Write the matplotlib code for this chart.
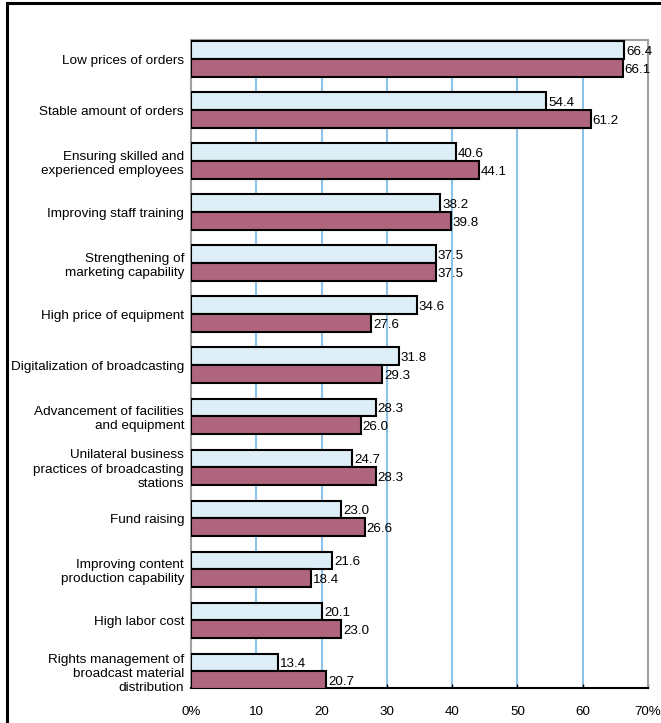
import numpy as np
import matplotlib
matplotlib.use("Agg")
from matplotlib import pyplot as plt
from matplotlib.patches import Rectangle

plt.rcParams["font.family"] = ["Liberation Sans", "DejaVu Sans"]

# issues, top to bottom
issues = [
    "Low prices of orders",
    "Stable amount of orders",
    "Ensuring skilled and\nexperienced employees",
    "Improving staff training",
    "Strengthening of\nmarketing capability",
    "High price of equipment",
    "Digitalization of broadcasting",
    "Advancement of facilities\nand equipment",
    "Unilateral business\npractices of broadcasting\nstations",
    "Fund raising",
    "Improving content\nproduction capability",
    "High labor cost",
    "Rights management of\nbroadcast material\ndistribution",
]
upper_vals = [66.4, 54.4, 40.6, 38.2, 37.5, 34.6, 31.8, 28.3, 24.7, 23.0, 21.6, 20.1, 13.4]
lower_vals = [66.1, 61.2, 44.1, 39.8, 37.5, 27.6, 29.3, 26.0, 28.3, 26.6, 18.4, 23.0, 20.7]
xticks = [0, 10, 20, 30, 40, 50, 60, 70]
xticklabels = ["0%", "10", "20", "30", "40", "50", "60", "70%"]

fig = plt.figure(figsize=(6.61, 7.23), dpi=100)
ax = fig.add_axes([191 / 661, 1 - 688 / 723, 457 / 661, 648 / 723])

# outer frame
fig.patches.append(Rectangle((7 / 661, -0.05), 1.0, 1 - 3 / 723 + 0.05,
                             transform=fig.transFigure, fill=False,
                             edgecolor="black", linewidth=2.2, zorder=0))

y = np.arange(len(issues))
h = 0.345
ax.barh(y - h / 2, upper_vals, height=h, color="#ddeef6", edgecolor="black",
        linewidth=1.5, zorder=3)
ax.barh(y + h / 2, lower_vals, height=h, color="#b0657f", edgecolor="black",
        linewidth=1.5, zorder=3)

for i in range(len(issues)):
    ax.text(upper_vals[i] + 0.3, y[i] - h / 2 + 0.04, f"{upper_vals[i]:.1f}",
            ha="left", va="center", fontsize=9.6, zorder=4, clip_on=False)
    ax.text(lower_vals[i] + 0.3, y[i] + h / 2 + 0.04, f"{lower_vals[i]:.1f}",
            ha="left", va="center", fontsize=9.6, zorder=4, clip_on=False)

ax.set_xlim(0, 70)
ax.set_ylim(12.33, -0.373)
ax.set_xticks(xticks)
ax.set_xticklabels(xticklabels, fontsize=9.6)
ax.set_yticks(y)
ax.set_yticklabels(issues, fontsize=9.7, linespacing=1.25)
ax.tick_params(axis="x", direction="in", length=3, width=1, pad=13)
ax.tick_params(axis="y", length=0, pad=5)

for xv in xticks[1:-1]:
    ax.axvline(xv, color="#8cc3ea", linewidth=1.5, zorder=1)

for side in ["left", "top", "right"]:
    ax.spines[side].set_color("#a0a0a0")
    ax.spines[side].set_linewidth(1.5)
ax.spines["bottom"].set_color("black")
ax.spines["bottom"].set_linewidth(1.5)

fig.savefig("out.png", dpi=100)
